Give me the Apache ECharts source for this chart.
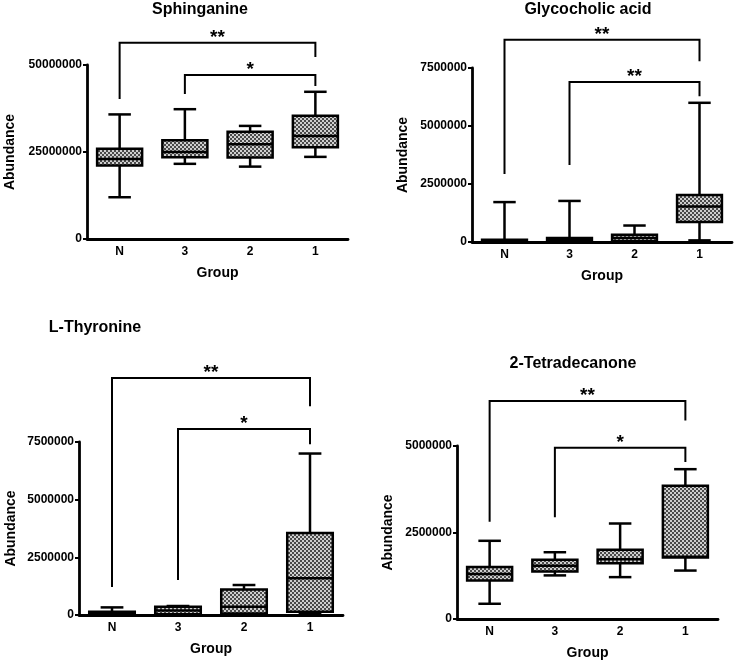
<!DOCTYPE html>
<html>
<head>
<meta charset="utf-8">
<script src="https://cdn.jsdelivr.net/npm/echarts@6/dist/echarts.min.js"></script>
<style>
html,body{margin:0;padding:0;background:#fff;}
#chart{width:740px;height:662px;}
</style>
</head>
<body>
<div id="chart"></div>
<script>
// ---- data ----
const categories = ['N', '3', '2', '1'];
const panelTitles = ['Sphinganine', 'Glycocholic acid', 'L-Thyronine', '2-Tetradecanone'];
// [min, Q1, median, Q3, max] per group (N, 3, 2, 1)
const sphinganine = [
  [12000000, 21100000, 23000000, 25900000, 35800000],
  [21600000, 23500000, 25000000, 28400000, 37300000],
  [20800000, 23400000, 27200000, 30800000, 32500000],
  [23600000, 26400000, 29600000, 35400000, 42300000]
];
const glycocholicAcid = [
  [0, 20000, 50000, 100000, 1720000],
  [10000, 30000, 80000, 170000, 1770000],
  [20000, 30000, 170000, 310000, 710000],
  [70000, 860000, 1530000, 2030000, 6000000]
];
const lThyronine = [
  [0, 30000, 80000, 140000, 330000],
  [10000, 30000, 200000, 360000, 390000],
  [20000, 70000, 360000, 1110000, 1300000],
  [40000, 140000, 1590000, 3560000, 7000000]
];
const tetradecanone = [
  [440000, 1110000, 1300000, 1500000, 2260000],
  [1260000, 1370000, 1540000, 1710000, 1930000],
  [1210000, 1610000, 1730000, 2000000, 2760000],
  [1400000, 1780000, 1800000, 3850000, 4330000]
];
// significance brackets: [fromGroup, toGroup, barLevel, leftLegEnd, rightLegEnd, label]
const sphinganineSig = [[0, 3, 56400000, 40200000, 52300000, '**'], [1, 3, 47100000, 41700000, 44000000, '*']];
const glycocholicSig = [[0, 3, 8720000, 2930000, 7790000, '**'], [1, 3, 6900000, 3320000, 6280000, '**']];
const thyronineSig = [[0, 3, 10270000, 1210000, 9050000, '**'], [1, 3, 8060000, 1520000, 7400000, '*']];
const tetradecanoneSig = [[0, 3, 6300000, 2810000, 5740000, '**'], [1, 3, 4950000, 2940000, 4540000, '*']];
// axis ticks
const yMax = [50000000, 7500000, 7500000, 5000000];
const yInterval = [25000000, 2500000, 2500000, 2500000];

// ---- layout ----
const grids = [
  {left: 87, top: 65, width: 261, height: 174},
  {left: 472, top: 68, width: 260, height: 174},
  {left: 79, top: 442, width: 264, height: 173},
  {left: 457, top: 446, width: 261, height: 173}
];
const titlePos = [[200, 10], [588, 10], [95, 328], [573, 364]];
const nameGaps = [70, 62, 61, 62];

const boxData = [sphinganine, glycocholicAcid, lThyronine, tetradecanone];
const sigData = [sphinganineSig, glycocholicSig, thyronineSig, tetradecanoneSig];

// checker pattern fill
const pat = document.createElement('canvas');
pat.width = 4; pat.height = 4;
const pctx = pat.getContext('2d');
pctx.fillStyle = '#cfcfcf'; pctx.fillRect(0, 0, 4, 4);
pctx.fillStyle = '#4a4a4a';
pctx.fillRect(0, 0, 2, 2); pctx.fillRect(2, 2, 2, 2);
const patternFill = {image: pat, repeat: 'repeat'};

const FONT = '"Liberation Sans", Arial, sans-serif';
const LW = 2.5;

const xAxes = [], yAxes = [], series = [], graphics = [];
for (let p = 0; p < 4; p++) {
  xAxes.push({
    type: 'category', gridIndex: p, data: categories, boundaryGap: true,
    name: 'Group', nameLocation: 'middle', nameGap: 27,
    nameTextStyle: {fontFamily: FONT, fontWeight: 'bold', fontSize: 14, color: '#000'},
    axisLine: {lineStyle: {color: '#000', width: 2.8}},
    axisTick: {alignWithLabel: true, length: 4, lineStyle: {color: '#000', width: 2}},
    axisLabel: {fontFamily: FONT, fontWeight: 'bold', fontSize: 12, color: '#000', margin: 7},
    splitLine: {show: false}
  });
  yAxes.push({
    type: 'value', gridIndex: p, min: 0, max: yMax[p], interval: yInterval[p],
    name: 'Abundance', nameLocation: 'middle', nameGap: nameGaps[p],
    nameTextStyle: {fontFamily: FONT, fontWeight: 'bold', fontSize: 14, color: '#000'},
    axisLine: {show: true, lineStyle: {color: '#000', width: 2.8}},
    axisTick: {show: true, length: 4, lineStyle: {color: '#000', width: 2}},
    axisLabel: {fontFamily: FONT, fontWeight: 'bold', fontSize: 12, color: '#000', margin: 5,
      formatter: v => String(v)},
    splitLine: {show: false}
  });
  const data = boxData[p].map((d, i) => [i].concat(d));
  series.push({
    type: 'custom', xAxisIndex: p, yAxisIndex: p, data: data,
    encode: {x: 0, y: [1, 2, 3, 4, 5]},
    renderItem: function (params, api) {
      const i = api.value(0);
      const band = api.size([1, 0])[0];
      const bw = band * 0.69, cw = bw * 0.5;
      const pMin = api.coord([i, api.value(1)]);
      const pQ1 = api.coord([i, api.value(2)]);
      const pMed = api.coord([i, api.value(3)]);
      const pQ3 = api.coord([i, api.value(4)]);
      const pMax = api.coord([i, api.value(5)]);
      const x = pMin[0];
      const ls = {stroke: '#000', lineWidth: LW, fill: null};
      return {
        type: 'group',
        children: [
          {type: 'line', shape: {x1: x, y1: pMax[1], x2: x, y2: pQ3[1]}, style: ls},
          {type: 'line', shape: {x1: x, y1: pQ1[1], x2: x, y2: pMin[1]}, style: ls},
          {type: 'line', shape: {x1: x - cw / 2, y1: pMax[1], x2: x + cw / 2, y2: pMax[1]}, style: ls},
          {type: 'line', shape: {x1: x - cw / 2, y1: pMin[1], x2: x + cw / 2, y2: pMin[1]}, style: ls},
          {type: 'rect', shape: {x: x - bw / 2, y: pQ3[1], width: bw, height: Math.max(pQ1[1] - pQ3[1], 0.5)},
            style: {fill: patternFill, stroke: '#000', lineWidth: LW}},
          {type: 'line', shape: {x1: x - bw / 2, y1: pMed[1], x2: x + bw / 2, y2: pMed[1]}, style: ls}
        ]
      };
    }
  });
  series.push({
    type: 'custom', xAxisIndex: p, yAxisIndex: p, data: sigData[p],
    encode: {x: [0, 1], y: [2, 3, 4]}, clip: false, silent: true,
    renderItem: function (params, api) {
      const s = sigData[p][params.dataIndex];
      const a = api.coord([s[0], s[2]]);
      const b = api.coord([s[1], s[2]]);
      const la = api.coord([s[0], s[3]]);
      const rb = api.coord([s[1], s[4]]);
      const ls = {stroke: '#000', lineWidth: 2, fill: null};
      return {
        type: 'group',
        children: [
          {type: 'polyline', shape: {points: [[la[0], la[1]], [a[0], a[1]], [b[0], b[1]], [rb[0], rb[1]]]}, style: ls},
          {type: 'text', x: (a[0] + b[0]) / 2, y: a[1] - 5,
            style: {text: s[5], fontFamily: FONT, fontWeight: 'bold', fontSize: 19, fill: '#000', align: 'center', verticalAlign: 'middle'}}
        ]
      };
    }
  });
  graphics.push({
    type: 'text', x: titlePos[p][0], y: titlePos[p][1],
    style: {text: panelTitles[p], fontFamily: FONT, fontWeight: 'bold', fontSize: 16, fill: '#000', align: 'center', verticalAlign: 'middle'}
  });
}

const chart = echarts.init(document.getElementById('chart'), null, {renderer: 'canvas'});
chart.setOption({
  animation: false,
  backgroundColor: '#fff',
  grid: grids,
  xAxis: xAxes,
  yAxis: yAxes,
  series: series,
  graphic: graphics
});
</script>
</body>
</html>
